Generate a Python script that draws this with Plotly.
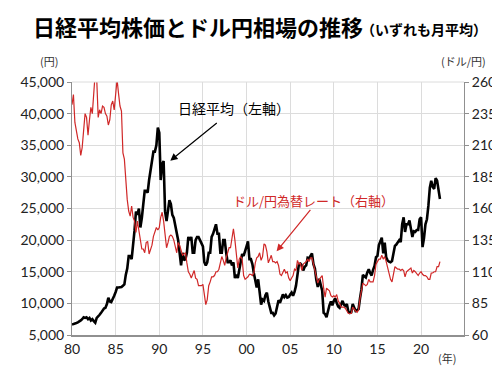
import pandas as pd
import plotly.graph_objects as go

# Bimonthly samples (Jan, Mar, May, Jul, Sep, Nov), 1980-01 .. 2022-03
nikkei = [
    6650, 6700, 6800, 6900, 7000, 7100,
    7300, 7500, 7800, 7700, 7800, 7500,
    7700, 7300, 7500, 7200, 6950, 7700,
    7900, 8200, 8500, 8900, 9200, 9300,
    9900, 10900, 10300, 10200, 10600, 11200,
    11800, 12500, 12500, 12500, 12600, 12800,
    13000, 14500, 15500, 17500, 17500, 17000,
    19000, 21500, 24500, 24000, 25000, 22000,
    23500, 26000, 27800, 27800, 27500, 29500,
    31000, 32200, 34000, 34000, 35000, 37800,
    37000, 29500, 32000, 32500, 24500, 23000,
    24500, 26300, 25700, 24000, 23500, 22500,
    21500, 20000, 18000, 16000, 18000, 16800,
    17000, 18000, 20500, 20000, 20500, 18000,
    18000, 20000, 20500, 20500, 20000, 19500,
    19000, 16500, 16000, 16500, 18000, 18000,
    20500, 21000, 22000, 22500, 21000, 21000,
    18000, 18000, 20000, 20000, 18000, 16500,
    16500, 16800, 16000, 16500, 14000, 14500,
    14000, 15500, 16500, 17800, 17500, 18500,
    19000, 19800, 17000, 17000, 16200, 14800,
    13500, 12500, 13800, 12000, 9800, 10600,
    10400, 11300, 11700, 10300, 9500, 8500,
    8500, 8100, 8400, 9800, 10500, 10100,
    10700, 11400, 11000, 11300, 10900, 11000,
    11400, 11700, 11200, 11800, 12800, 14800,
    16200, 16300, 16000, 15200, 15800, 16000,
    17200, 17100, 17600, 17900, 16200, 15500,
    13700, 12600, 13900, 13100, 12000, 8500,
    8300, 7800, 9000, 9700, 10300, 9700,
    10400, 10800, 10100, 9500, 9300, 10000,
    10400, 9800, 9600, 9900, 8700, 8500,
    8600, 9900, 9300, 8800, 8900, 9100,
    10800, 12200, 14500, 14300, 14100, 14900,
    15400, 14800, 14400, 15300, 15900, 17300,
    17500, 19200, 19800, 20400, 17900, 19600,
    17300, 16800, 16600, 16500, 16700, 17700,
    19100, 19300, 19600, 20000, 19700, 22500,
    23600, 21300, 22500, 22500, 23100, 22000,
    20500, 21400, 21300, 21600, 21600, 23300,
    23600, 18900, 20300, 22500, 23300, 25400,
    28300, 29400, 28400, 28100, 29800, 29400,
    27900, 26500,
]

usdjpy = [
    242, 250, 228, 220, 215, 212,
    202, 208, 222, 235, 232, 218,
    230, 240, 235, 255, 268, 262,
    232, 238, 235, 241, 240, 235,
    233, 226, 230, 242, 245, 238,
    254, 262, 251, 241, 237, 204,
    199, 180, 167, 158, 154, 162,
    153, 150, 141, 150, 143, 136,
    128, 128, 125, 133, 134, 124,
    128, 131, 138, 141, 145, 143,
    145, 153, 157, 150, 139, 129,
    133, 138, 139, 138, 135, 130,
    125, 133, 131, 127, 123, 124,
    125, 117, 110, 108, 105, 108,
    111, 105, 104, 99, 99, 99,
    100, 90, 84, 88, 99, 102,
    106, 106, 107, 110, 110, 112,
    118, 122, 119, 115, 121, 125,
    129, 129, 135, 144, 135, 121,
    113, 120, 122, 120, 107, 104,
    105, 106, 108, 108, 107, 109,
    117, 121, 122, 125, 119, 122,
    132, 131, 126, 117, 120, 123,
    118, 118, 117, 118, 115, 108,
    107, 109, 112, 109, 110, 105,
    103, 105, 107, 112, 111, 119,
    116, 117, 111, 116, 117, 118,
    120, 118, 121, 121, 116, 110,
    107, 101, 104, 106, 107, 97,
    90, 97, 96, 95, 91, 90,
    91, 90, 92, 87, 85, 82,
    82, 82, 81, 79, 77, 77,
    77, 82, 80, 79, 78, 80,
    89, 95, 101, 100, 99, 100,
    104, 102, 102, 102, 107, 116,
    118, 120, 120, 123, 120, 122,
    118, 113, 109, 104, 102, 109,
    114, 113, 112, 112, 111, 112,
    111, 106, 110, 111, 112, 113,
    109, 111, 110, 108, 107, 109,
    110, 108, 107, 107, 106, 104,
    104, 109, 109, 110, 110, 114,
    114, 118,
]

dates = pd.date_range("1980-01-01", periods=len(nikkei), freq="2MS")

left_ticks = [5000, 10000, 15000, 20000, 25000, 30000, 35000, 40000, 45000]
right_ticks = [60, 85, 110, 135, 160, 185, 210, 235, 260]

FONT = "Noto Sans CJK JP"
NUMFONT = "Lato, Noto Sans CJK JP"
RED = "#d02828"
GRID = "#dcdcdc"

fig = go.Figure()
fig.add_trace(go.Scatter(x=dates, y=nikkei, mode="lines",
                         line=dict(color="black", width=2.6),
                         name="日経平均", yaxis="y"))
fig.add_trace(go.Scatter(x=dates, y=usdjpy, mode="lines",
                         line=dict(color=RED, width=1.2),
                         name="ドル/円", yaxis="y2"))

fig.update_layout(
    width=500, height=371,
    margin=dict(l=60, r=44, t=74, b=44),
    paper_bgcolor="white", plot_bgcolor="white",
    showlegend=False,
    font=dict(family=NUMFONT, size=14, color="#222"),
    xaxis=dict(
        type="date",
        range=["1980-01-01", "2024-12-01"],
        tick0="1980-01-01", dtick="M60", tickformat="%y",
        showgrid=True, gridcolor=GRID, gridwidth=1,
        showline=True, linecolor="#909090", linewidth=1.5,
        ticks="", tickfont=dict(family=NUMFONT, size=14, color="#222"),
        zeroline=False,
    ),
    yaxis=dict(
        range=[5000, 45000], tickvals=left_ticks, tickformat=",",
        showgrid=True, gridcolor=GRID, gridwidth=1,
        showline=True, linecolor="#909090", linewidth=1,
        ticks="outside", ticklen=4, tickcolor="#909090",
        tickfont=dict(family=NUMFONT, size=14, color="#222"),
        zeroline=False,
    ),
    yaxis2=dict(
        range=[60, 260], tickvals=right_ticks, overlaying="y", side="right",
        showgrid=False,
        showline=True, linecolor="#909090", linewidth=1,
        ticks="outside", ticklen=4, tickcolor="#909090",
        tickfont=dict(family=NUMFONT, size=14, color="#222"),
        zeroline=False,
    ),
)

# top border of plot area
fig.add_shape(type="line", xref="paper", yref="paper", x0=0, x1=1, y0=1, y1=1,
              line=dict(color=GRID, width=1))

def px(x):
    return (x - 60) / 396

def py(y):
    return (327 - y) / 253

annotations = [
    dict(text="<b>日経平均株価とドル円相場の推移</b>", xref="paper", yref="paper",
         x=px(19), y=py(18), showarrow=False,
         font=dict(family=FONT, size=22, color="black"),
         xanchor="left", yanchor="middle"),
    dict(text="<b>（いずれも月平均）</b>", xref="paper", yref="paper",
         x=px(350), y=py(21), showarrow=False,
         font=dict(family=FONT, size=14, color="black"),
         xanchor="left", yanchor="middle"),
    dict(text="(円)", xref="paper", yref="paper", x=px(37), y=py(53),
         showarrow=False, font=dict(family=FONT, size=11, color="#333"),
         xanchor="center", yanchor="middle"),
    dict(text="(ドル/円)", xref="paper", yref="paper", x=px(455), y=py(53),
         showarrow=False, font=dict(family=FONT, size=11, color="#333"),
         xanchor="center", yanchor="middle"),
    dict(text="(年)", xref="paper", yref="paper", x=px(439), y=py(350),
         showarrow=False, font=dict(family=FONT, size=11, color="#333"),
         xanchor="center", yanchor="middle"),
    dict(text="日経平均（左軸）", xref="paper", yref="paper",
         x=px(224), y=py(100),
         showarrow=False, font=dict(family=FONT, size=14, color="black"),
         xanchor="center", yanchor="middle"),
    dict(text="ドル/円為替レート（右軸）", xref="paper", yref="paper",
         x=px(304), y=py(192),
         showarrow=False, font=dict(family=FONT, size=13, color=RED),
         xanchor="center", yanchor="middle"),
    dict(text="", xref="paper", yref="paper",
         x=px(159.3), y=py(152.7),
         ax=48, ay=-39, showarrow=True, arrowhead=2, arrowsize=1.2,
         arrowwidth=1.2, arrowcolor="black"),
    dict(text="", xref="paper", yref="paper",
         x=px(266.7), y=py(243.3),
         ax=35, ay=-43, showarrow=True, arrowhead=2, arrowsize=1.2,
         arrowwidth=1.2, arrowcolor=RED),
]
fig.update_layout(annotations=annotations)

fig.write_html("out.html")
